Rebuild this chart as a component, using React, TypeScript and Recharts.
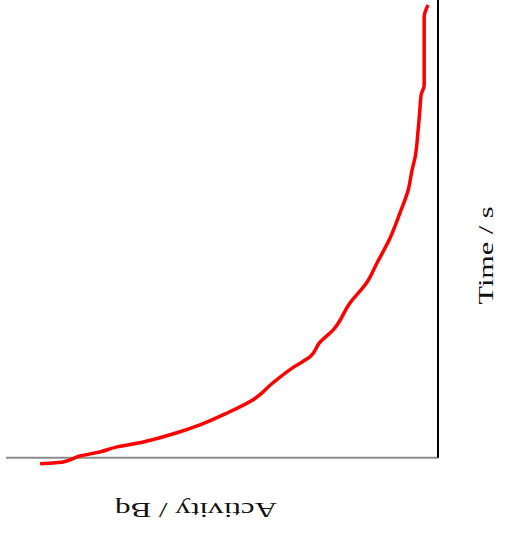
import { LineChart, Line, XAxis, YAxis, ReferenceLine } from "recharts";

// activity (Bq) read against time (s), the graph is drawn turned a quarter turn
const activity = [
  92.1, 86.8, 82.9, 78.2, 74.3, 69.0, 64.4, 59.7, 55.1, 48.8, 42.8, 38.2, 33.6,
  29.6, 27.3, 24.3, 20.4, 16.4, 14.1, 11.1, 8.8, 6.9, 6.0, 5.3, 4.6, 4.2, 3.9,
  3.2, 3.2, 3.2, 2.3,
];
const time = [
  -1.3, -0.9, 0.4, 1.3, 2.4, 3.3, 4.4, 5.7, 7.2, 9.8, 12.7, 16.4, 19.7, 22.1,
  25.3, 27.9, 33.8, 38.4, 42.6, 48.0, 53.5, 58.5, 62.9, 65.7, 71.6, 76.0, 79.3,
  81.4, 89.1, 96.3, 98.9,
];

const data = activity.map((a, i) => ({ activity: a, time: time[i] }));

const LABEL_FONT = "'Liberation Serif', 'Times New Roman', serif";

function ActivityLabel({ viewBox }: { viewBox?: any }) {
  if (!viewBox) return null;
  const cx = viewBox.x + viewBox.width / 2 - 26;
  const cy = viewBox.y + 43;
  return (
    <text
      x={cx}
      y={cy + 7}
      textAnchor="middle"
      fontFamily={LABEL_FONT}
      fontSize={20}
      fill="#111"
      textLength={162}
      lengthAdjust="spacingAndGlyphs"
      transform={`rotate(180, ${cx}, ${cy})`}
    >
      Activity / Bq
    </text>
  );
}

function TimeLabel({ viewBox }: { viewBox?: any }) {
  if (!viewBox) return null;
  const cx = viewBox.x + 55;
  const cy = viewBox.y + viewBox.height / 2 + 22;
  return (
    <text
      x={cx}
      y={cy}
      textAnchor="middle"
      fontFamily={LABEL_FONT}
      fontSize={20}
      fill="#111"
      textLength={98}
      lengthAdjust="spacingAndGlyphs"
      transform={`rotate(-90, ${cx}, ${cy})`}
    >
      Time / s
    </text>
  );
}

export default function App() {
  return (
    <div style={{ position: "absolute", left: 0, top: 0, background: "#fff" }}>
      <LineChart
        width={506}
        height={534}
        data={data}
        layout="vertical"
        margin={{ top: 0, right: 0, bottom: 0, left: 6 }}
      >
        <XAxis
          type="number"
          dataKey="activity"
          domain={[0, 100]}
          reversed
          allowDataOverflow
          height={67}
          axisLine={false}
          tickLine={false}
          tick={false}
          label={<ActivityLabel />}
        />
        <YAxis
          type="number"
          dataKey="time"
          domain={[-2, 100]}
          reversed
          allowDataOverflow
          orientation="right"
          width={68}
          axisLine={false}
          tickLine={false}
          tick={false}
          label={<TimeLabel />}
        />
        <ReferenceLine y={0} stroke="#8c8c8c" strokeWidth={2} />
        <ReferenceLine
          segment={[
            { x: 0, y: 0 },
            { x: 0, y: 100 },
          ]}
          stroke="#000"
          strokeWidth={2}
        />
        <Line
          dataKey="activity"
          type="monotone"
          stroke="#ff0000"
          strokeWidth={3.5}
          dot={false}
          isAnimationActive={false}
        />
      </LineChart>
    </div>
  );
}
